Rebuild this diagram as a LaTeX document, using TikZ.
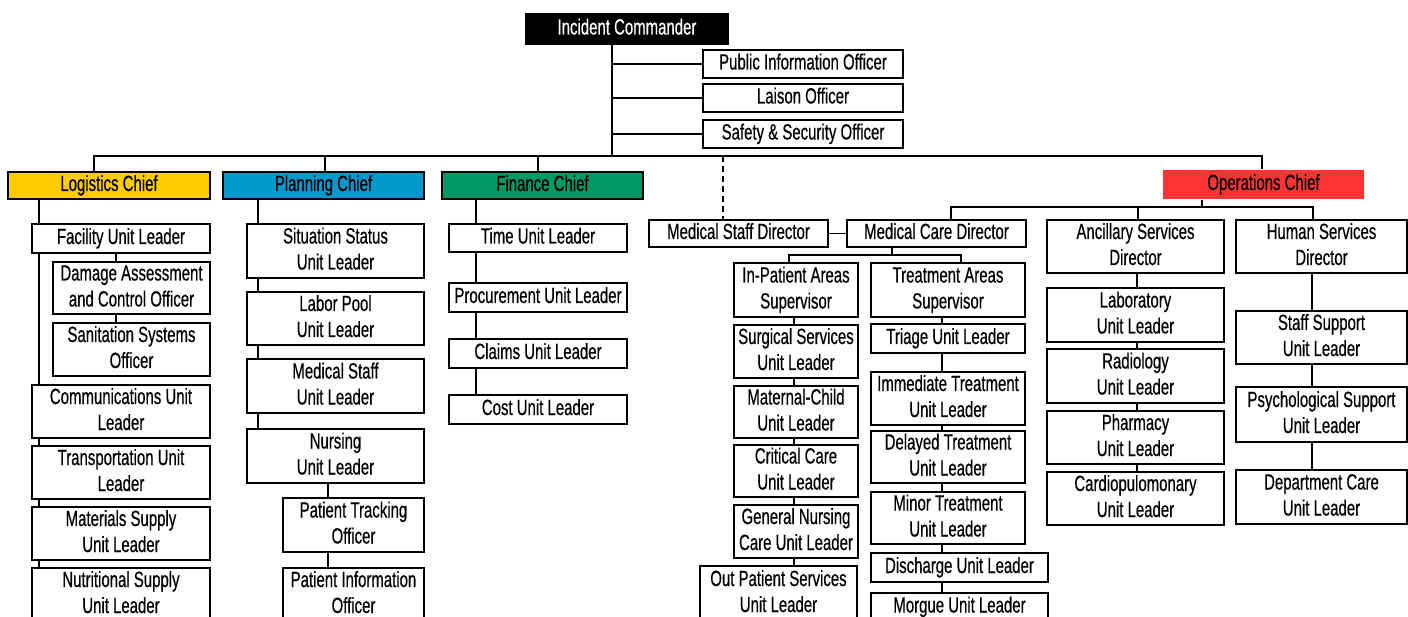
\documentclass[tikz,border=0pt]{standalone}
\usepackage{fontspec}
\setmainfont{Liberation Sans}[FakeStretch=0.68,FakeBold=0.5]
\definecolor{logcol}{HTML}{FFCC00}
\definecolor{plancol}{HTML}{0099CC}
\definecolor{fincol}{HTML}{009966}
\definecolor{opscol}{HTML}{FF3333}
% \ob[style]{name}{x1}{y1}{x2}{y2}{text}: a box given by its corners
\newcommand\ob[7][]{%
  \node[box,#1,minimum width=#5-#3,minimum height=#6-#4] (#2)
    at ({(#3+#5)/2},{(#4+#6)/2}) {\rule{0pt}{16pt}#7\rule[-5pt]{0pt}{5pt}};}
\begin{document}
\begin{tikzpicture}[x=1pt,y=-1pt,line width=1.8pt,
  box/.style={draw=black,fill=white,inner sep=0pt,align=center,
    font=\fontsize{22}{26}\selectfont},
  chief/.style={fill=#1},
  link/.style={line width=1.8pt}]
\useasboundingbox (0,0) rectangle (1408,617);
\clip (0,0) rectangle (1408,617);

% command staff
\ob[fill=black,text=white]{ic}{526}{14}{728}{44}{Incident Commander}
\ob{pio}{703}{50}{903}{78}{Public Information Officer}
\ob{lia}{703}{84}{903}{112}{Laison Officer}
\ob{saf}{703}{120}{903}{148}{Safety \& Security Officer}

% section chiefs
\ob[chief=logcol]{log}{8}{172}{210}{199}{Logistics Chief}
\ob[chief=plancol]{pln}{223}{172}{424}{199}{Planning Chief}
\ob[chief=fincol]{fin}{442}{172}{643}{199}{Finance Chief}
\ob[chief=opscol,draw=none]{ops}{1163}{170}{1364}{199}{Operations Chief}

% logistics
\ob{fac}{32}{224}{210}{253}{Facility Unit Leader}
\ob{dam}{53}{262}{210}{314}{Damage Assessment\\and Control Officer}
\ob{san}{53}{323}{210}{376}{Sanitation Systems\\Officer}
\ob{com}{32}{385}{210}{438}{Communications Unit\\Leader}
\ob{trn}{32}{446}{210}{499}{Transportation Unit\\Leader}
\ob{mat}{32}{507}{210}{560}{Materials Supply\\Unit Leader}
\ob{nut}{32}{568}{210}{621}{Nutritional Supply\\Unit Leader}

% planning
\ob{sit}{247}{224}{424}{278}{Situation Status\\Unit Leader}
\ob{lab}{247}{292}{424}{345}{Labor Pool\\Unit Leader}
\ob{mst}{247}{359}{424}{413}{Medical Staff\\Unit Leader}
\ob{nur}{247}{429}{424}{483}{Nursing\\Unit Leader}
\ob{ptr}{283}{498}{424}{552}{Patient Tracking\\Officer}
\ob{pin}{283}{568}{424}{621}{Patient Information\\Officer}

% finance
\ob{tim}{449}{224}{627}{252}{Time Unit Leader}
\ob{pro}{449}{283}{627}{312}{Procurement Unit Leader}
\ob{clm}{449}{339}{627}{368}{Claims Unit Leader}
\ob{cst}{449}{395}{627}{424}{Cost Unit Leader}

% operations
\ob{msd}{649}{220}{828}{247}{Medical Staff Director}
\ob{mcd}{847}{220}{1026}{247}{Medical Care Director}
\ob{asd}{1047}{220}{1224}{273}{Ancillary Services\\Director}
\ob{hsd}{1236}{220}{1407}{273}{Human Services\\Director}

\ob{ipa}{734}{263}{858}{317}{In-Patient Areas\\Supervisor}
\ob{sur}{734}{325}{858}{378}{Surgical Services\\Unit Leader}
\ob{mch}{734}{386}{858}{438}{Maternal-Child\\Unit Leader}
\ob{crc}{734}{445}{858}{497}{Critical Care\\Unit Leader}
\ob{gnc}{734}{505}{858}{558}{General Nursing\\Care Unit Leader}
\ob{ops2}{700}{566}{857}{621}{Out Patient Services\\Unit Leader}

\ob{tra}{871}{263}{1025}{317}{Treatment Areas\\Supervisor}
\ob{tri}{871}{324}{1025}{353}{Triage Unit Leader}
\ob{imm}{871}{372}{1025}{425}{Immediate Treatment\\Unit Leader}
\ob{del}{871}{431}{1025}{483}{Delayed Treatment\\Unit Leader}
\ob{min}{871}{492}{1025}{544}{Minor Treatment\\Unit Leader}
\ob{dis}{871}{553}{1048}{582}{Discharge Unit Leader}
\ob{mor}{871}{593}{1048}{621}{Morgue Unit Leader}

\ob{lbr}{1047}{288}{1224}{342}{Laboratory\\Unit Leader}
\ob{rad}{1047}{349}{1224}{403}{Radiology\\Unit Leader}
\ob{pha}{1047}{411}{1224}{464}{Pharmacy\\Unit Leader}
\ob{car}{1047}{472}{1224}{525}{Cardiopulomonary\\Unit Leader}

\ob{sts}{1236}{311}{1407}{364}{Staff Support\\Unit Leader}
\ob{psy}{1236}{387}{1407}{442}{Psychological Support\\Unit Leader}
\ob{dep}{1236}{470}{1407}{524}{Department Care\\Unit Leader}

% bus and trunk positions
\coordinate (icx) at (612,156);
\coordinate (busL) at (94,156);
\coordinate (busR) at (1262,156);
\coordinate (plx) at (325,156);
\coordinate (fix) at (538,156);
\coordinate (dsx) at (723,156);
\coordinate (opx) at (1202,207);
\coordinate (opL) at (951,207);
\coordinate (opR) at (1313,207);
\coordinate (anx) at (1138,207);
\coordinate (mcx) at (892,255);
\coordinate (mcL) at (789,255);
\coordinate (mcR) at (961,255);
\coordinate (lgx) at (39,0);
\coordinate (dmx) at (116,0);
\coordinate (plcx) at (258,0);
\coordinate (ptx) at (328,0);
\coordinate (fnx) at (476,0);
\coordinate (ipx) at (794,0);
\coordinate (trx) at (942,0);
\coordinate (acx) at (1137,0);
\coordinate (hux) at (1312,0);

% command staff links
\draw[link] (ic.south -| icx) -- (icx);
\foreach \n in {pio,lia,saf} \draw[link] (\n.west) -- (\n.west -| icx);

% general staff bus
\draw[link] (log.north -| busL) -- (busL) -- (busR) -- (ops.north -| busR);
\draw[link] (plx) -- (pln.north -| plx);
\draw[link] (fix) -- (fin.north -| fix);
\draw[link,dash pattern=on 6pt off 4pt] (dsx) -- (msd.north -| dsx);

% operations bus
\draw[link] (ops.south -| opx) -- (opx);
\draw[link] (mcd.north -| opL) -- (opL) -- (opR) -- (hsd.north -| opR);
\draw[link] (anx) -- (asd.north -| anx);
\draw[link] (msd.east) -- (mcd.west);
\draw[link] (mcd.south -| mcx) -- (mcx);
\draw[link] (ipa.north -| mcL) -- (mcL) -- (mcR) -- (tra.north -| mcR);

% unit chains
\foreach \a/\b/\c in {log/fac/lgx, fac/com/lgx, com/trn/lgx, trn/mat/lgx, mat/nut/lgx,
    fac/dam/dmx, dam/san/dmx,
    pln/sit/plcx, sit/lab/plcx, lab/mst/plcx, mst/nur/plcx, nur/ptr/ptx, ptr/pin/ptx,
    fin/tim/fnx, tim/pro/fnx, pro/clm/fnx, clm/cst/fnx,
    ipa/sur/ipx, sur/mch/ipx, mch/crc/ipx, crc/gnc/ipx, gnc/ops2/ipx,
    tra/tri/trx, tri/imm/trx, imm/del/trx, del/min/trx, min/dis/trx, dis/mor/trx,
    asd/lbr/acx, lbr/rad/acx, rad/pha/acx, pha/car/acx,
    hsd/sts/hux, sts/psy/hux, psy/dep/hux}
  \draw[link] (\a.south -| \c) -- (\b.north -| \c);
\end{tikzpicture}
\end{document}
